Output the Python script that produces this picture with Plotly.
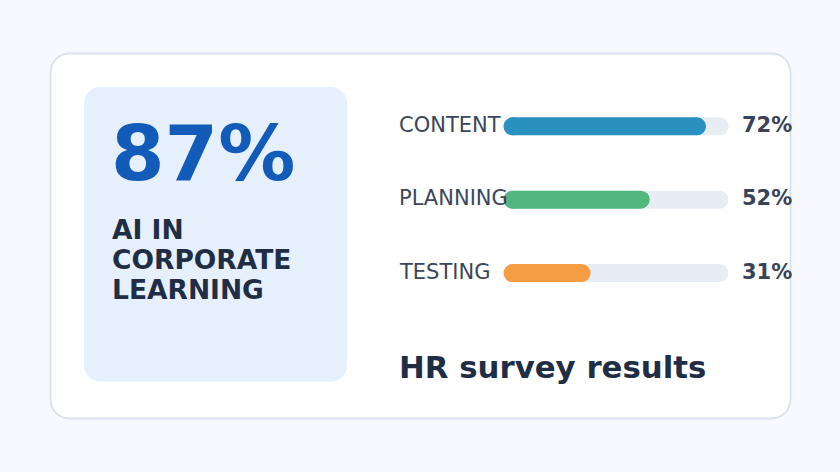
import plotly.graph_objects as go

# ---- data ----
categories = ["CONTENT", "PLANNING", "TESTING"]
values = [72, 52, 31]
bar_colors = ["#2a90c0", "#52b77e", "#f59d42"]
scale_max = 80
headline_value = "87%"
headline_lines = ["AI IN", "CORPORATE", "LEARNING"]
title_text = "HR survey results"

W, H = 840, 472
FONT = "DejaVu Sans"

def px(x):
    return x / W

def py(y):
    return 1 - y / H

def rounded_rect(x0, y0, x1, y1, r):
    k = 0.4477 * r
    def P(x, y):
        return f"{px(x):.5f},{py(y):.5f}"
    d = f"M {P(x0 + r, y0)} L {P(x1 - r, y0)} "
    d += f"C {P(x1 - k, y0)} {P(x1, y0 + k)} {P(x1, y0 + r)} "
    d += f"L {P(x1, y1 - r)} "
    d += f"C {P(x1, y1 - k)} {P(x1 - k, y1)} {P(x1 - r, y1)} "
    d += f"L {P(x0 + r, y1)} "
    d += f"C {P(x0 + k, y1)} {P(x0, y1 - k)} {P(x0, y1 - r)} "
    d += f"L {P(x0, y0 + r)} "
    d += f"C {P(x0, y0 + k)} {P(x0 + k, y0)} {P(x0 + r, y0)} Z"
    return d

# axis geometry (pixels)
track_x0, track_x1 = 503.5, 728.5
bar_h = 18
row_top, row_step = 89.6, 73.4
units_per_px = scale_max / (track_x1 - track_x0)
r_u = (bar_h / 2) * units_per_px

fig = go.Figure()

for i, (cat, v, c) in enumerate(zip(categories, values, bar_colors)):
    # track
    fig.add_trace(go.Scatter(
        x=[r_u, scale_max - r_u], y=[i, i], mode="lines+markers",
        line=dict(color="#e8edf4", width=bar_h),
        marker=dict(color="#e8edf4", size=bar_h, line=dict(width=0)),
        hoverinfo="skip", showlegend=False, cliponaxis=False))
    # fill
    fig.add_trace(go.Scatter(
        x=[r_u, v - r_u], y=[i, i], mode="lines+markers",
        line=dict(color=c, width=bar_h),
        marker=dict(color=c, size=bar_h, line=dict(width=0)),
        hoverinfo="skip", showlegend=False, cliponaxis=False))

annotations = []
for i, (cat, v) in enumerate(zip(categories, values)):
    annotations.append(dict(
        x=px(397), y=i, xref="paper", yref="y", xanchor="left", yanchor="middle",
        text=cat, showarrow=False, yshift=1.5,
        font=dict(family=FONT, size=21, color="#3a4659")))
    annotations.append(dict(
        x=px(740), y=i, xref="paper", yref="y", xanchor="left", yanchor="middle",
        text=f"{v}%", showarrow=False, yshift=1.5,
        font=dict(family=FONT, size=21, color="#374357", weight="bold")))

annotations.append(dict(
    x=px(109), y=py(153), xref="paper", yref="paper", xanchor="left", yanchor="middle",
    text=headline_value, showarrow=False,
    font=dict(family=FONT, size=77, color="#135bb8", weight="bold")))

for line, cy in zip(headline_lines, [229.7, 259.7, 289.7]):
    annotations.append(dict(
        x=px(110), y=py(cy), xref="paper", yref="paper", xanchor="left", yanchor="middle",
        text=line, showarrow=False,
        font=dict(family=FONT, size=26.5, color="#1f2d45", weight="bold")))

annotations.append(dict(
    x=px(397), y=py(366.7), xref="paper", yref="paper", xanchor="left", yanchor="middle",
    text=title_text, showarrow=False,
    font=dict(family=FONT, size=30.8, color="#1f2d45", weight="bold")))

shapes = [
    dict(type="path", xref="paper", yref="paper", layer="below",
         path=rounded_rect(50.5, 53.5, 790.5, 418.5, 19),
         fillcolor="#ffffff", line=dict(color="#d9e1ee", width=1.8)),
    dict(type="path", xref="paper", yref="paper", layer="below",
         path=rounded_rect(84, 87, 347, 381.5, 16),
         fillcolor="#e6f0fd", line=dict(width=0)),
]

fig.update_layout(
    width=W, height=H,
    margin=dict(l=0, r=0, t=0, b=0),
    paper_bgcolor="#f7f9fe", plot_bgcolor="rgba(0,0,0,0)",
    xaxis=dict(domain=[px(track_x0), px(track_x1)], range=[0, scale_max],
               visible=False, fixedrange=True),
    yaxis=dict(domain=[py(row_top + 3 * row_step), py(row_top)],
               range=[len(categories) - 0.5, -0.5],
               visible=False, fixedrange=True),
    shapes=shapes, annotations=annotations,
    showlegend=False, hovermode=False,
)

fig.write_html("out.html", config={"displayModeBar": False})
